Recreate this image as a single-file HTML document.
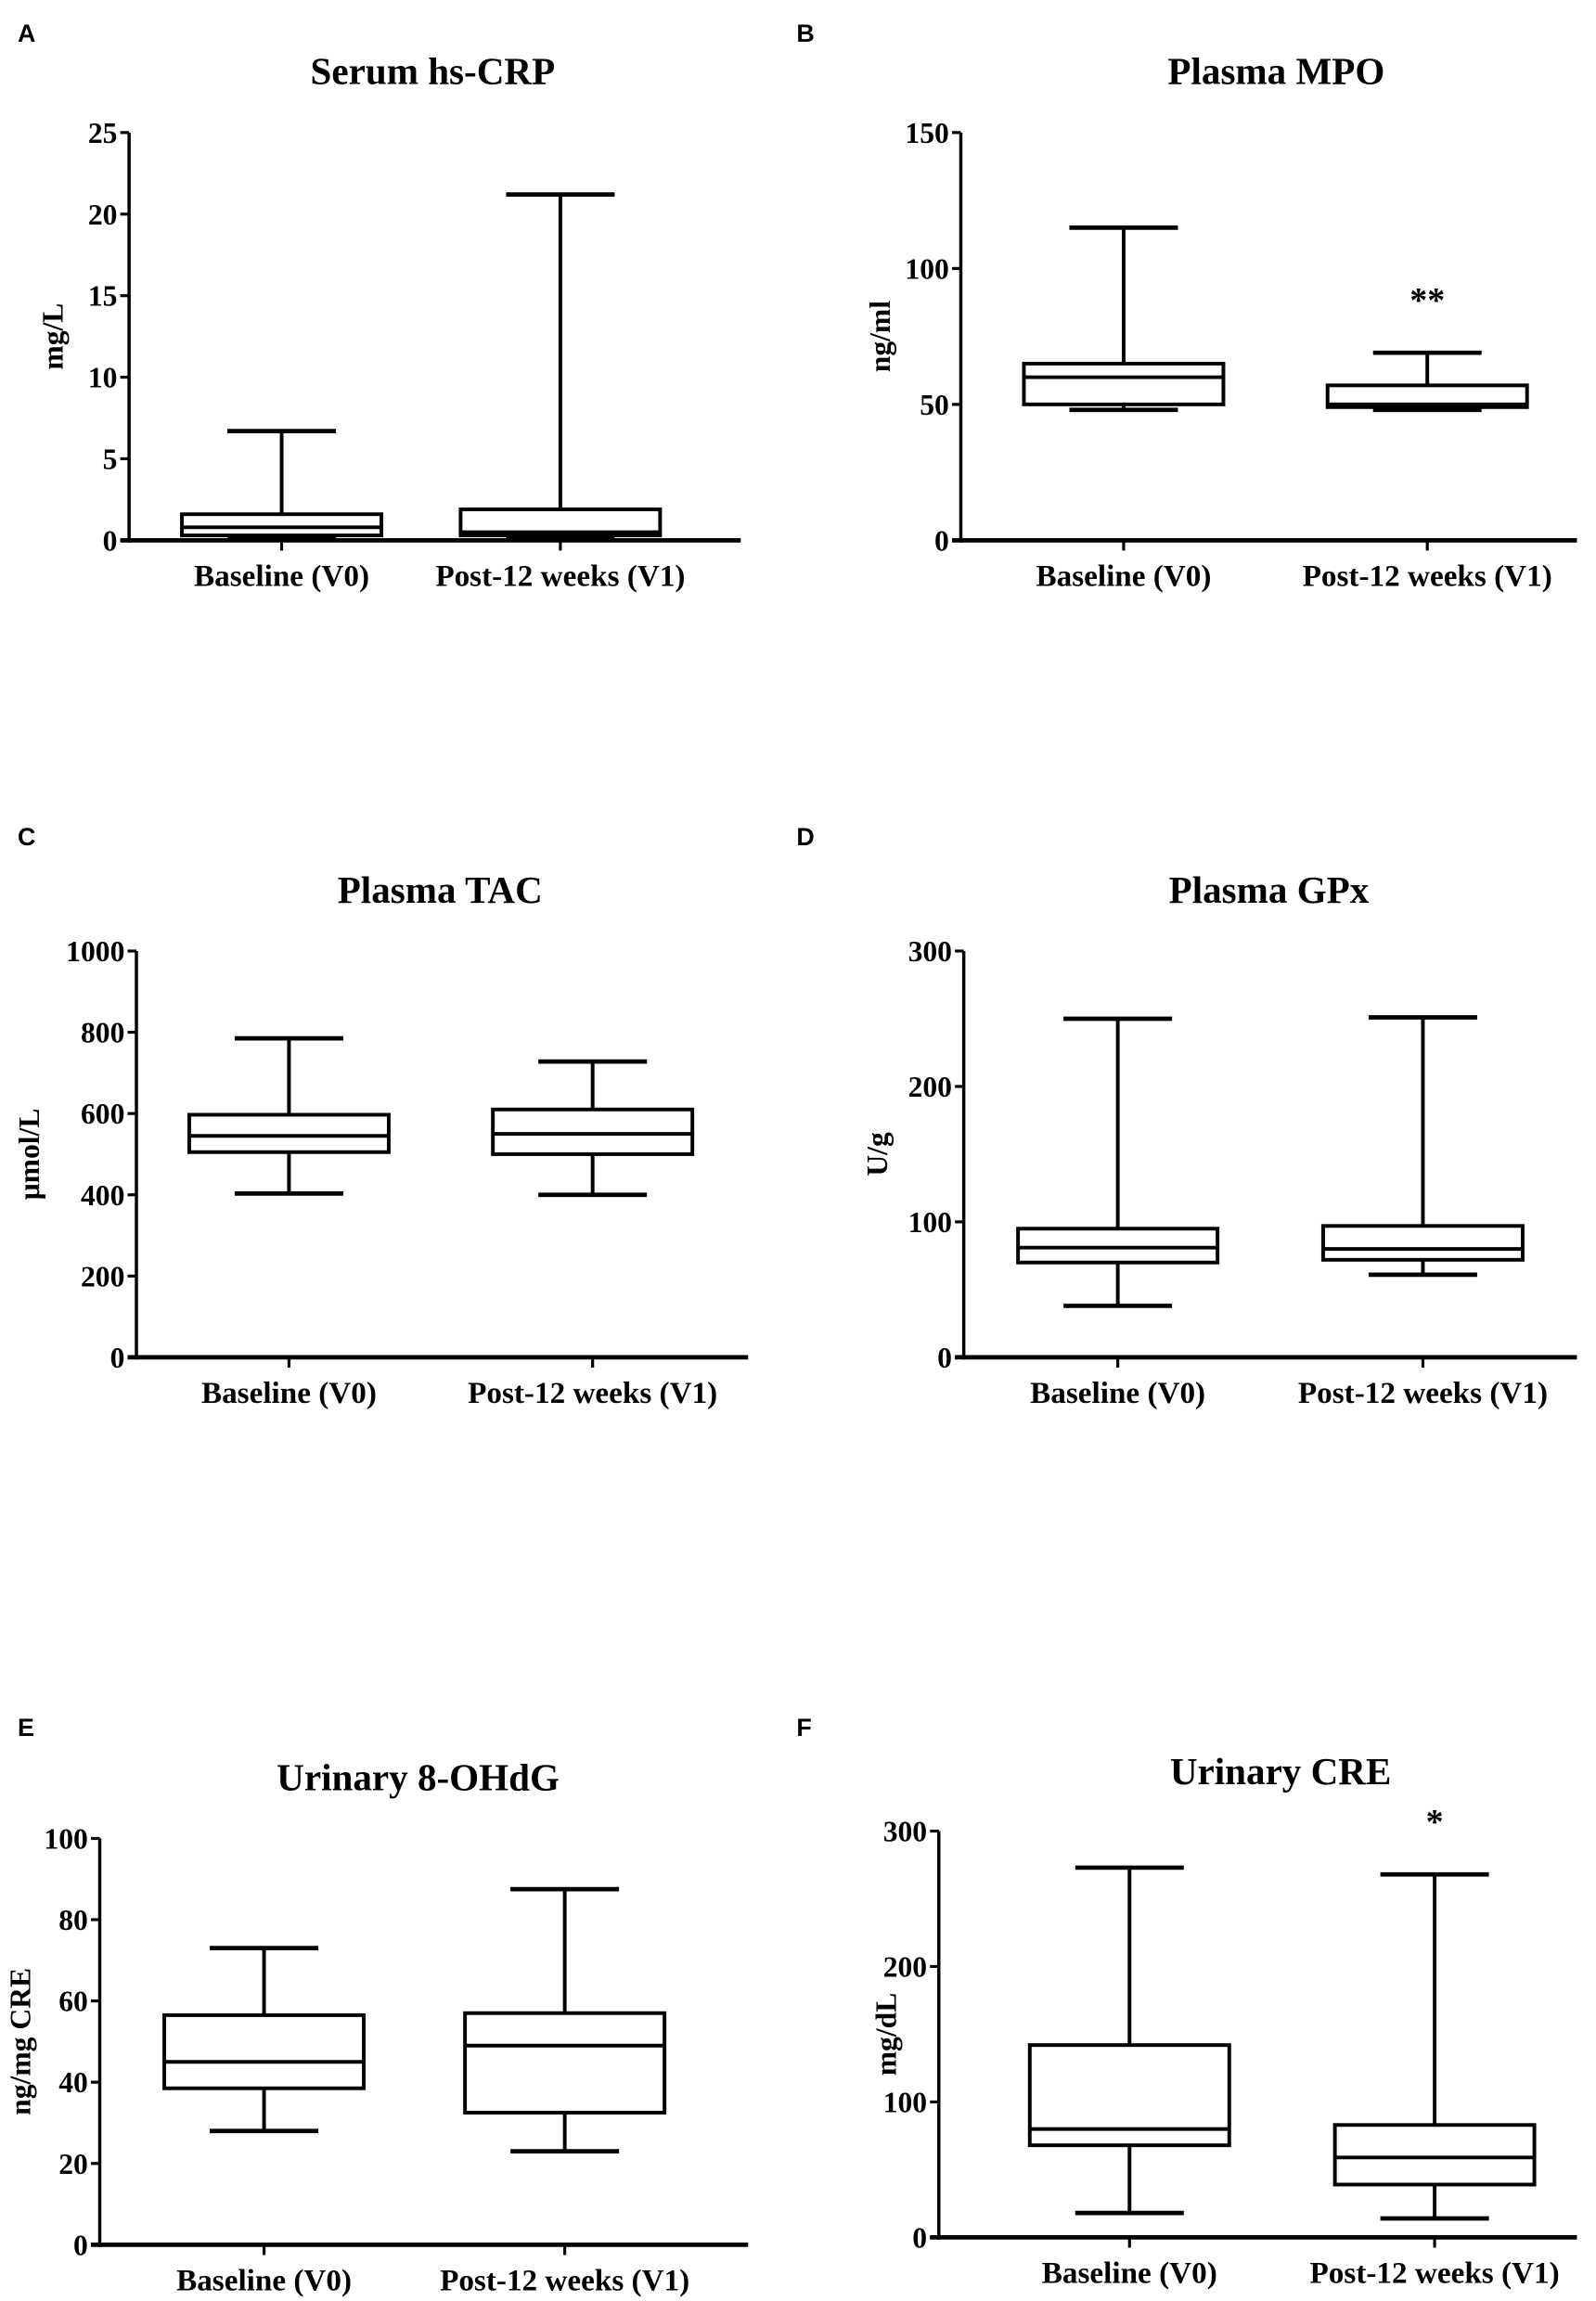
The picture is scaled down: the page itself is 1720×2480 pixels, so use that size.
<!DOCTYPE html>
<html><head><meta charset="utf-8"><style>
html,body{margin:0;padding:0;background:#fff}
svg{display:block}
text{font-family:"Liberation Serif",serif;font-weight:bold;fill:#000}
.lab{font-family:"Liberation Sans",sans-serif;font-size:17px}
</style></head><body>
<svg id="fig" width="1720" height="2480" viewBox="0 0 1088 1568" xmlns="http://www.w3.org/2000/svg"></svg>
<script>
const categories = ["Baseline (V0)", "Post-12 weeks (V1)"];
const crpV0 = [0.1, 0.3, 0.8, 1.6, 6.7];
const crpV1 = [0.1, 0.3, 0.5, 1.9, 21.2];
const mpoV0 = [48, 50, 60, 65, 115];
const mpoV1 = [48, 49, 50, 57, 69];
const tacV0 = [403, 505, 545, 597, 785];
const tacV1 = [400, 500, 550, 610, 728];
const gpxV0 = [38, 70, 81, 95, 250];
const gpxV1 = [61, 72, 80, 97, 251];
const ohdgV0 = [28, 38.5, 45, 56.5, 73];
const ohdgV1 = [23, 32.5, 49, 57, 87.5];
const creV0 = [18, 68, 80, 142, 273];
const creV1 = [14, 39, 59, 83, 268];
const crpTicks = [0, 5, 10, 15, 20, 25];
const mpoTicks = [0, 50, 100, 150];
const tacTicks = [0, 200, 400, 600, 800, 1000];
const gpxTicks = [0, 100, 200, 300];
const ohdgTicks = [0, 20, 40, 60, 80, 100];
const creTicks = [0, 100, 200, 300];

const NS = "http://www.w3.org/2000/svg";
const svg = document.getElementById("fig");
function el(tag, attrs, parent, txt) {
  const e = document.createElementNS(NS, tag);
  for (const k in attrs) e.setAttribute(k, attrs[k]);
  if (txt !== undefined) e.textContent = txt;
  (parent || svg).appendChild(e);
  return e;
}
const panels = [
  {id:"a", letter:"A", lx:12, ly:28, title:"Serum hs-CRP", tx:295, ty:57, ylab:"mg/L", ylx:38, ax:88, top:90, bot:368, xend:505, cats:[192,382], ticks:crpTicks, data:[crpV0,crpV1], sig:["",""], catY:399},
  {id:"b", letter:"B", lx:543, ly:28, title:"Plasma MPO", tx:870, ty:57, ylab:"ng/ml", ylx:602, ax:655, top:90, bot:368, xend:1075, cats:[766,973], ticks:mpoTicks, data:[mpoV0,mpoV1], sig:["","**"], catY:399},
  {id:"c", letter:"C", lx:12, ly:576, title:"Plasma TAC", tx:300, ty:615, ylab:"μmol/L", ylx:22, ax:93, top:648, bot:925, xend:510, cats:[197,404], ticks:tacTicks, data:[tacV0,tacV1], sig:["",""], catY:956},
  {id:"d", letter:"D", lx:543, ly:576, title:"Plasma GPx", tx:865, ty:615, ylab:"U/g", ylx:600, ax:657, top:648, bot:925, xend:1075, cats:[762,970], ticks:gpxTicks, data:[gpxV0,gpxV1], sig:["",""], catY:956},
  {id:"e", letter:"E", lx:12, ly:1183, title:"Urinary 8-OHdG", tx:285, ty:1220, ylab:"ng/mg CRE", ylx:16, ax:68, top:1253, bot:1530, xend:510, cats:[180,385], ticks:ohdgTicks, data:[ohdgV0,ohdgV1], sig:["",""], catY:1561},
  {id:"f", letter:"F", lx:543, ly:1183, title:"Urinary CRE", tx:873, ty:1216, ylab:"mg/dL", ylx:606, ax:640, top:1248, bot:1525, xend:1075, cats:[770,978], ticks:creTicks, data:[creV0,creV1], sig:["","*"], catY:1556}
];
panels.forEach(p => {
  const g = el("g", {});
  
  
  const max = p.ticks[p.ticks.length-1], min = p.ticks[0];
  const y = v => p.bot - (v - min) / (max - min) * (p.bot - p.top);
  const L = el("text", {x:p.lx, y:p.ly, class:"lab"}, g, p.letter);
  
  
  const T = el("text", {x:p.tx, y:p.ty, "font-size":26, "text-anchor":"middle"}, g, p.title);
  
  
  const ym = (p.top + p.bot) / 2;
  const YL = el("text", {x:p.ylx, y:ym, "font-size":20, "text-anchor":"middle", transform:`rotate(-90 ${p.ylx} ${ym})`, "dominant-baseline":"middle"}, g, p.ylab);
  
  
  const ya = el("line", {x1:p.ax, y1:p.top, x2:p.ax, y2:p.bot+1.5, stroke:"#000", "stroke-width":2.2}, g);
  
  
  const xa = el("line", {x1:p.ax-6, y1:p.bot, x2:p.xend, y2:p.bot, stroke:"#000", "stroke-width":3}, g);
  
  
  p.ticks.forEach(t => {
    el("line", {x1:p.ax-6, y1:y(t), x2:p.ax, y2:y(t), stroke:"#000", "stroke-width":2}, g);
    const tl = el("text", {x:p.ax-8, y:y(t)+7, "font-size":20, "text-anchor":"end"}, g, t);
    
    
  });
  p.cats.forEach((cx, i) => {
    el("line", {x1:cx, y1:p.bot, x2:cx, y2:p.bot+7, stroke:"#000", "stroke-width":2}, g);
    const cl = el("text", {x:cx, y:p.catY, "font-size":21, "text-anchor":"middle"}, g, categories[i]);
    
    
    const d = p.data[i];
    const bg = el("g", {stroke:"#000", "stroke-width":2.5, fill:"none"}, g);
    
    
    el("line", {x1:cx, y1:y(d[0]), x2:cx, y2:y(d[1])}, bg);
    el("line", {x1:cx, y1:y(d[3]), x2:cx, y2:y(d[4])}, bg);
    el("line", {x1:cx-37, y1:y(d[0]), x2:cx+37, y2:y(d[0]), "stroke-width":3}, bg);
    el("line", {x1:cx-37, y1:y(d[4]), x2:cx+37, y2:y(d[4]), "stroke-width":3}, bg);
    el("rect", {x:cx-68, y:y(d[3]), width:136, height:Math.max(0.5, y(d[1]) - y(d[3])), fill:"#fff"}, bg);
    el("line", {x1:cx-68, y1:y(d[2]), x2:cx+68, y2:y(d[2])}, bg);
    if (p.sig[i]) {
      const s = el("text", {x:cx, y:y(d[4]) - 28, "font-size":24, "text-anchor":"middle"}, g, p.sig[i]);
      
      
    }
  });
});
</script>
</body></html>
